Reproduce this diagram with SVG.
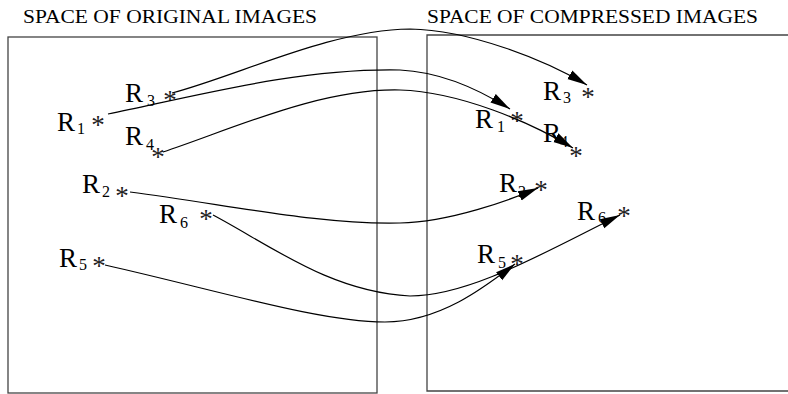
<svg xmlns="http://www.w3.org/2000/svg" width="788" height="394" viewBox="0 0 788 394">
<style>
.box{fill:none;stroke:#444;stroke-width:1.3}
.title{font-family:"Liberation Serif","Times New Roman",serif;font-size:19.5px;fill:#000}
.r{font-family:"Liberation Serif","Times New Roman",serif;font-size:27px;fill:#000}
.s{font-family:"Liberation Serif","Times New Roman",serif;font-size:16px;fill:#000}
.st{font-family:"Liberation Serif","Times New Roman",serif;font-size:27px;fill:#222;text-anchor:middle}
.c{fill:none;stroke:#000;stroke-width:1.2;marker-end:url(#arr)}
</style>
<defs>
<marker id="arr" markerUnits="userSpaceOnUse" markerWidth="22" markerHeight="12" viewBox="0 0 22 12" refX="20" refY="6" orient="auto">
<path d="M0,1 L20,6 L0,11 Z" fill="#000"/>
</marker>
</defs>
<rect width="788" height="394" fill="#fff"/>
<g id="space-original">
<rect class="box" x="8" y="37" width="369" height="356"/>
<text class="title" x="23" y="22.7" textLength="294" lengthAdjust="spacingAndGlyphs">SPACE OF ORIGINAL IMAGES</text>
</g>
<g id="space-compressed">
<path class="box" d="M790,35 H427 V391 H790"/>
<text class="title" x="427" y="22.7" textLength="331" lengthAdjust="spacingAndGlyphs">SPACE OF COMPRESSED IMAGES</text>
</g>
<g id="orig-R3"><text class="r" x="125" y="102">R</text><text class="s" x="147" y="106">3</text><text class="st" x="170" y="108.5">*</text></g>
<g id="orig-R1"><text class="r" x="57" y="131">R</text><text class="s" x="77" y="134">1</text><text class="st" x="98" y="133.5">*</text></g>
<g id="orig-R4"><text class="r" x="125" y="145">R</text><text class="s" x="146" y="150">4</text><text class="st" x="158" y="166">*</text></g>
<g id="orig-R2"><text class="r" x="82" y="193">R</text><text class="s" x="102" y="197">2</text><text class="st" x="122" y="204.5">*</text></g>
<g id="orig-R6"><text class="r" x="159" y="223">R</text><text class="s" x="180" y="228">6</text><text class="st" x="206" y="227.5">*</text></g>
<g id="orig-R5"><text class="r" x="59" y="267">R</text><text class="s" x="79" y="270">5</text><text class="st" x="99" y="274.5">*</text></g>
<g id="comp-R3"><text class="r" x="543" y="100">R</text><text class="s" x="563" y="103">3</text><text class="st" x="588" y="105.5">*</text></g>
<g id="comp-R1"><text class="r" x="475" y="128">R</text><text class="s" x="497" y="132">1</text><text class="st" x="517" y="129.5">*</text></g>
<g id="comp-R4"><text class="r" x="543" y="142">R</text><text class="s" x="560" y="147">4</text><text class="st" x="576" y="164.5">*</text></g>
<g id="comp-R2"><text class="r" x="499" y="192">R</text><text class="s" x="518" y="197">2</text><text class="st" x="541" y="198.5">*</text></g>
<g id="comp-R6"><text class="r" x="577" y="220">R</text><text class="s" x="598" y="223">6</text><text class="st" x="624" y="224.5">*</text></g>
<g id="comp-R5"><text class="r" x="477" y="263">R</text><text class="s" x="498" y="268">5</text><text class="st" x="517" y="272.5">*</text></g>
<g id="connectors">
<path class="c" d="M172,93 C240,75 330,30 410,29 C470,30 545,60 587,85"/>
<path class="c" d="M108,114 C200,95 300,68 400,70 C440,72 480,90 510,109"/>
<path class="c" d="M163,152 C230,130 320,88 400,90 C460,92 530,122 573,148"/>
<path class="c" d="M130,192 C230,205 320,225 400,223 C450,222 510,200 538,188"/>
<path class="c" d="M213,215 C270,245 330,292 410,296 C470,296 545,252 620,215"/>
<path class="c" d="M105,265 C220,291 320,322 385,322 C440,322 485,287 515,264"/>
</g>
</svg>
